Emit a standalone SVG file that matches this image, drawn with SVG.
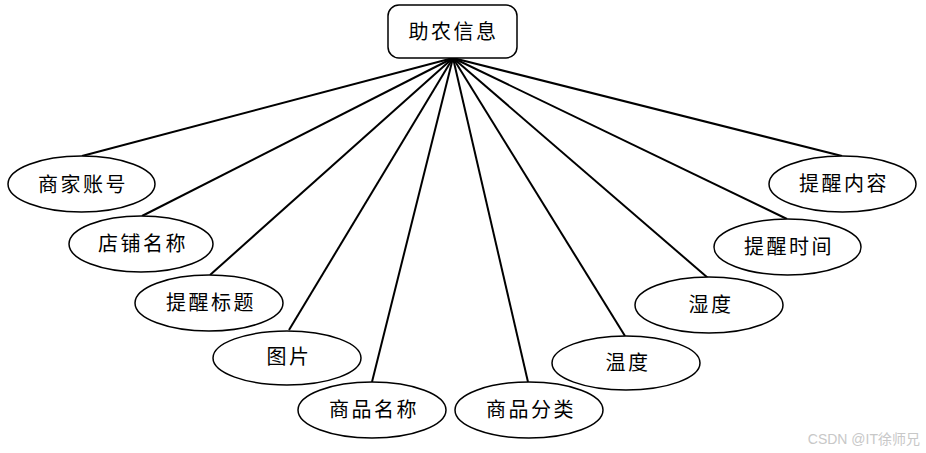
<svg xmlns="http://www.w3.org/2000/svg" width="926" height="453" viewBox="0 0 926 453">
<style>
.n{fill:#fff;stroke:#000;stroke-width:1.5}
.t{font-family:"Liberation Sans","Noto Sans CJK SC",sans-serif;font-size:20px;letter-spacing:2.5px;text-anchor:middle;dominant-baseline:central;fill:#000}
.c line{stroke:#000;stroke-width:2}
</style>
<rect width="926" height="453" fill="#fff"/>
<g class="c" id="connectors">
<line x1="453" y1="58" x2="82" y2="156"/>
<line x1="453" y1="58" x2="142" y2="216"/>
<line x1="453" y1="58" x2="210" y2="275"/>
<line x1="453" y1="58" x2="289" y2="330"/>
<line x1="453" y1="58" x2="372" y2="382"/>
<line x1="453" y1="58" x2="528" y2="382"/>
<line x1="453" y1="58" x2="625" y2="336"/>
<line x1="453" y1="58" x2="708" y2="278"/>
<line x1="453" y1="58" x2="787" y2="219"/>
<line x1="453" y1="58" x2="842" y2="156"/>
</g>
<g id="root"><rect class="n" x="388" y="5" width="129" height="53" rx="11"/><text class="t" x="453.5" y="32">助农信息</text></g>
<g id="n1"><ellipse class="n" cx="81.5" cy="184" rx="73.5" ry="28"/><text class="t" x="83" y="185">商家账号</text></g>
<g id="n2"><ellipse class="n" cx="141" cy="244" rx="72" ry="28"/><text class="t" x="143" y="244">店铺名称</text></g>
<g id="n3"><ellipse class="n" cx="209" cy="303" rx="74" ry="28"/><text class="t" x="211" y="303">提醒标题</text></g>
<g id="n4"><ellipse class="n" cx="287" cy="358" rx="74" ry="27"/><text class="t" x="289" y="357">图片</text></g>
<g id="n5"><ellipse class="n" cx="372" cy="410" rx="74" ry="28"/><text class="t" x="374" y="410">商品名称</text></g>
<g id="n6"><ellipse class="n" cx="529" cy="410" rx="74" ry="28"/><text class="t" x="531" y="410">商品分类</text></g>
<g id="n7"><ellipse class="n" cx="626" cy="363" rx="74" ry="27"/><text class="t" x="628" y="363">温度</text></g>
<g id="n8"><ellipse class="n" cx="709" cy="305" rx="74" ry="28"/><text class="t" x="711" y="305">湿度</text></g>
<g id="n9"><ellipse class="n" cx="787.5" cy="247" rx="73.5" ry="28"/><text class="t" x="789" y="247">提醒时间</text></g>
<g id="n10"><ellipse class="n" cx="842.5" cy="184" rx="73.5" ry="28"/><text class="t" x="844" y="184">提醒内容</text></g>
<text x="920" y="444" font-family="'Liberation Sans','Noto Sans CJK SC',sans-serif" font-size="14" fill="#c8c8c8" text-anchor="end">CSDN @IT徐师兄</text>
</svg>
